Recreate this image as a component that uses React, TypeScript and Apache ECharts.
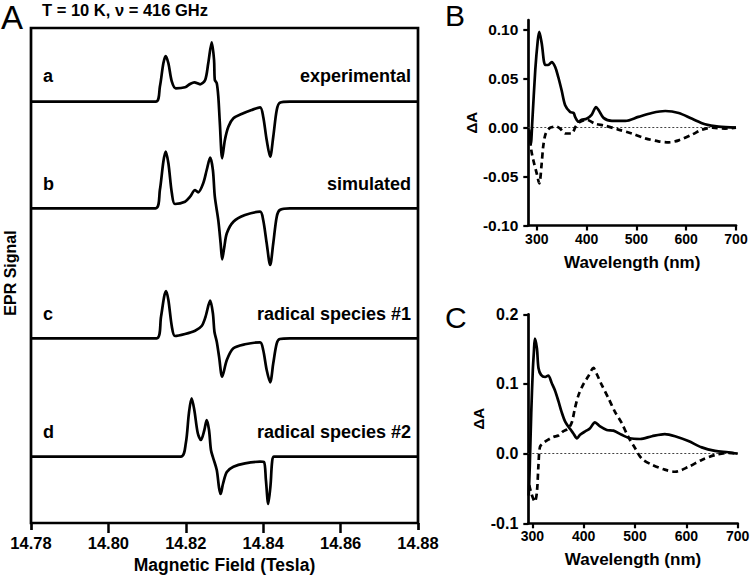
import React, { useEffect, useRef } from "react";
import * as echarts from "echarts";

// ---------- Panel A: EPR traces (field in Tesla, signal in a.u. relative to each baseline) ----------
const traceExperimental: number[][] = [
  [14.78, 0], [14.8122, 0], [14.8133, 15], [14.8142, 38.4], [14.8148, 45.7], [14.8155, 38.4],
  [14.8164, 20], [14.8174, 13.4], [14.8198, 14.4], [14.8211, 17.7], [14.8222, 19.4], [14.8237, 17.4],
  [14.825, 21.7], [14.8258, 38.4], [14.8267, 59.4], [14.8273, 41.7], [14.8275, 21.7], [14.828, 18.4],
  [14.8284, 5], [14.8288, -21.6], [14.8294, -56.6], [14.8301, -38.3], [14.831, -25], [14.8323, -16.6],
  [14.8344, -12.3], [14.837, -8.3], [14.8392, -5.6], [14.84, -15], [14.8409, -38.3], [14.8418, -55],
  [14.8426, -35], [14.8435, -8.3], [14.8443, -1], [14.8469, 0], [14.88, 0],
];
const traceSimulated: number[][] = [
  [14.78, 0], [14.8122, 0], [14.8133, 18.3], [14.8142, 46.6], [14.8148, 56.6], [14.8155, 45],
  [14.8164, 15], [14.8172, 4.3], [14.8198, 6.6], [14.8211, 11.6], [14.8224, 18.3], [14.8232, 16],
  [14.8245, 25], [14.8254, 38.3], [14.8263, 50.6], [14.827, 38.3], [14.8275, 11.6], [14.8284, -12],
  [14.829, -35], [14.8294, -51], [14.8299, -40], [14.8306, -25], [14.8323, -13.4], [14.8353, -6.7],
  [14.8392, -3.4], [14.84, -11.7], [14.8409, -35], [14.8418, -56.7], [14.8426, -35], [14.8435, -8.4],
  [14.8443, -1.7], [14.8469, 0], [14.88, 0],
];
const traceRadical1: number[][] = [
  [14.78, 0], [14.8125, 0], [14.8136, 21.6], [14.8144, 41.6], [14.8149, 47.3], [14.8155, 38.3],
  [14.8164, 11.6], [14.8172, 2.3], [14.8198, 4.3], [14.8224, 7.6], [14.8241, 12.3], [14.8251, 21.6],
  [14.8263, 37.6], [14.827, 25], [14.8274, 6.6], [14.828, -3.4], [14.8286, -18.4], [14.8294, -38.4],
  [14.8306, -21.7], [14.8323, -10], [14.8353, -6], [14.8392, -4], [14.84, -11.7], [14.8409, -31.7],
  [14.8418, -44], [14.8426, -25], [14.8435, -5], [14.8443, -0.7], [14.8469, 0], [14.88, 0],
];
const traceRadical2: number[][] = [
  [14.78, 0], [14.8187, 0], [14.82, 13.4], [14.8208, 43.4], [14.8215, 58.4], [14.8222, 46.7],
  [14.8231, 23.4], [14.8239, 16.7], [14.8248, 26.7], [14.8254, 36.7], [14.826, 26.7], [14.8265, 6.7],
  [14.8271, -1.6], [14.828, -13.3], [14.8286, -31.3], [14.829, -37.3], [14.8296, -27.3], [14.8306, -15.3],
  [14.8323, -10], [14.8353, -6.6], [14.8392, -5], [14.8402, -5.3], [14.8407, -23.3], [14.8413, -47.3],
  [14.8419, -28.3], [14.8423, -5.3], [14.8428, 0], [14.88, 0],
];
const epTraces = [traceExperimental, traceSimulated, traceRadical1, traceRadical2];
const traceOffsets = [421.3, 314.7, 184.7, 66.3];
const traceLetters = ["a", "b", "c", "d"];
const traceNames = ["experimental", "simulated", "radical species #1", "radical species #2"];
const fieldLabelTicks = [14.78, 14.8, 14.82, 14.84, 14.86, 14.88];
const fieldTopTicks = [14.8, 14.82, 14.84, 14.86];

// ---------- Panel B ----------
const bSolid: number[][] = [
  [285, -0.004], [288, -0.017], [291, 0.006], [297, 0.059], [302, 0.089], [305, 0.098], [310, 0.086],
  [317, 0.064], [323, 0.064], [330, 0.067], [337, 0.062], [343, 0.052], [350, 0.038], [357, 0.023],
  [367, 0.016], [374, 0.015], [377, 0.011], [384, 0.006], [390, 0.008], [400, 0.009], [410, 0.013],
  [419, 0.021], [424, 0.018], [434, 0.01], [451, 0.007], [478, 0.007], [504, 0.011], [531, 0.015],
  [558, 0.017], [585, 0.015], [612, 0.009], [638, 0.0035], [665, 0.001], [700, 0],
];
const bDashed: number[][] = [
  [285, -0.002], [289, -0.023], [293, -0.033], [300, -0.047], [305, -0.057], [310, -0.036],
  [313, -0.019], [318, -0.006], [327, 0], [340, 0.001], [347, -0.001], [357, -0.006], [370, -0.006],
  [378, 0.001], [387, 0.006], [400, 0.008], [417, 0.004], [437, 0.002], [464, -0.002], [491, -0.006],
  [518, -0.011], [544, -0.014], [565, -0.015], [585, -0.013], [612, -0.007], [632, -0.002], [652, 0],
  [678, -0.001], [700, 0],
];
const bTicks = [-0.1, -0.05, 0, 0.05, 0.1];

// ---------- Panel C ----------
const cSolid: number[][] = [
  [293, -0.06], [295, -0.02], [298, 0.06], [301, 0.12], [303, 0.145], [305, 0.165], [309, 0.151],
  [312, 0.123], [317, 0.113], [325, 0.11], [331, 0.112], [338, 0.101], [344, 0.091], [351, 0.075],
  [357, 0.06], [364, 0.046], [373, 0.036], [380, 0.029], [387, 0.022], [393, 0.027], [403, 0.032],
  [412, 0.036], [422, 0.045], [432, 0.039], [445, 0.034], [458, 0.033], [474, 0.027], [490, 0.022],
  [510, 0.021], [533, 0.025], [558, 0.028], [578, 0.025], [604, 0.018], [630, 0.009], [656, 0.004],
  [682, 0.002], [700, 0],
];
const cDashed: number[][] = [
  [294, -0.045], [299, -0.059], [305, -0.069], [309, -0.055], [312, -0.016], [315, 0.01], [321, 0.015],
  [331, 0.02], [341, 0.024], [351, 0.026], [360, 0.032], [370, 0.036], [377, 0.045], [383, 0.065],
  [390, 0.084], [399, 0.099], [409, 0.111], [419, 0.123], [425, 0.115], [435, 0.099], [448, 0.08],
  [461, 0.06], [474, 0.044], [487, 0.024], [500, 0.008], [513, -0.007], [533, -0.016], [558, -0.023],
  [578, -0.026], [604, -0.019], [630, -0.009], [656, -0.002], [682, 0.001], [700, 0],
];
const cTicks = [-0.1, 0, 0.1, 0.2];
const wavelengthTicks = [300, 400, 500, 600, 700];

const FONT = "'Liberation Sans', Arial, Helvetica, sans-serif";
const LW = 2.7;

function spectrumXAxis(gridIndex: number, min: number) {
  return {
    type: "value", gridIndex, min, max: 700,
    axisLine: { show: true, onZero: false, lineStyle: { color: "#000", width: 2.7 } },
    axisTick: { show: true, length: 5, customValues: wavelengthTicks, lineStyle: { color: "#000", width: 2.2 } },
    axisLabel: { customValues: wavelengthTicks, color: "#000", fontFamily: FONT, fontWeight: "bold", fontSize: 14, margin: 6, hideOverlap: false },
    splitLine: { show: false },
    name: "Wavelength (nm)", nameLocation: "middle", nameGap: 28,
    nameTextStyle: { color: "#000", fontFamily: FONT, fontWeight: "bold", fontSize: 17 },
  };
}

function spectrumYAxis(gridIndex: number, min: number, max: number, ticks: number[], digits: number, fs: number) {
  return {
    type: "value", gridIndex, min, max,
    axisLine: { show: true, onZero: false, lineStyle: { color: "#000", width: 2.7 } },
    axisTick: { show: true, length: 5, customValues: ticks, lineStyle: { color: "#000", width: 2.2 } },
    axisLabel: {
      customValues: ticks, color: "#000", fontFamily: FONT, fontWeight: "bold", fontSize: fs, margin: 10,
      formatter: (v: number) => (Math.abs(v) < 1e-9 ? 0 : v).toFixed(digits),
    },
    splitLine: { show: false },
    name: "ΔA", nameLocation: "middle", nameGap: 42, nameRotate: 90,
    nameTextStyle: { color: "#000", fontFamily: FONT, fontWeight: "bold", fontSize: 15 },
  };
}

function spectrumSeries(data: number[][], axisIndex: number, dashed: boolean, zeroLine: boolean) {
  const s: any = {
    type: "line", xAxisIndex: axisIndex, yAxisIndex: axisIndex, data,
    showSymbol: false, symbol: "none", smooth: 0.3,
    lineStyle: { color: "#000", width: LW, type: dashed ? [6, 4] : "solid" },
    z: 3,
  };
  if (zeroLine) {
    s.markLine = {
      silent: true, symbol: "none", label: { show: false },
      lineStyle: { color: "#444", width: 1, type: [2, 2] },
      data: [{ yAxis: 0 }], z: 1,
    };
  }
  return s;
}

export default function App() {
  const ref = useRef<HTMLDivElement>(null);
  useEffect(() => {
    document.body.style.margin = "0";
    if (!ref.current) return;
    const chart = echarts.init(ref.current, undefined, { renderer: "svg" });

    const textStyle = (fs: number, bold = true) => ({ fill: "#000", fontFamily: FONT, fontSize: fs, fontWeight: bold ? "bold" : "normal" });
    const letterY = [76, 184, 314, 432];
    const graphics: any[] = [
      { type: "text", x: 1, y: 17.5, style: { ...textStyle(33, false), text: "A", textAlign: "left", textVerticalAlign: "middle" } },
      { type: "text", x: 445, y: 15.5, style: { ...textStyle(30, false), text: "B", textAlign: "left", textVerticalAlign: "middle" } },
      { type: "text", x: 445, y: 317, style: { ...textStyle(30, false), text: "C", textAlign: "left", textVerticalAlign: "middle" } },
      { type: "text", x: 42, y: 10, style: { ...textStyle(16.5), text: "T = 10 K, ν = 416 GHz", textAlign: "left", textVerticalAlign: "middle" } },
      { type: "text", x: 10, y: 273, rotation: Math.PI / 2, style: { ...textStyle(16), text: "EPR Signal", textAlign: "center", textVerticalAlign: "middle" } },
    ];
    traceLetters.forEach((l, i) => {
      graphics.push({ type: "text", x: 43, y: letterY[i], style: { ...textStyle(18), text: l, textAlign: "left", textVerticalAlign: "middle" } });
      graphics.push({ type: "text", x: 411, y: letterY[i], style: { ...textStyle(18), text: traceNames[i], textAlign: "right", textVerticalAlign: "middle" } });
    });

    const option: any = {
      animation: false,
      backgroundColor: "#fff",
      textStyle: { fontFamily: FONT },
      grid: [
        { left: 31, top: 28, width: 387, height: 495, show: true, borderColor: "#000", borderWidth: 2.7, backgroundColor: "transparent", containLabel: false, outerBoundsMode: "none" },
        { left: 528.3, top: 20, width: 207.7, height: 205.5, containLabel: false, outerBoundsMode: "none" },
        { left: 528.3, top: 314.3, width: 209.4, height: 209, containLabel: false, outerBoundsMode: "none" },
      ],
      xAxis: [
        {
          type: "value", gridIndex: 0, min: 14.78, max: 14.88, position: "bottom",
          axisLine: { show: false },
          axisTick: { show: true, length: 7, customValues: [14.78, 14.88], lineStyle: { color: "#000", width: 2.7 } },
          axisLabel: {
            customValues: fieldLabelTicks, color: "#000", fontFamily: FONT, fontWeight: "bold", fontSize: 16.5, margin: 11, hideOverlap: false,
            formatter: (v: number) => v.toFixed(2),
          },
          splitLine: { show: false },
          name: "Magnetic Field (Tesla)", nameLocation: "middle", nameGap: 31,
          nameTextStyle: { color: "#000", fontFamily: FONT, fontWeight: "bold", fontSize: 17.5 },
        },
        {
          type: "value", gridIndex: 0, min: 14.78, max: 14.88, position: "top",
          axisLine: { show: false },
          axisTick: { show: true, inside: true, length: 10, customValues: fieldTopTicks, lineStyle: { color: "#000", width: 2.5 } },
          axisLabel: { show: false },
          splitLine: { show: false },
        },
        spectrumXAxis(1, 283),
        spectrumXAxis(2, 292.2),
      ],
      yAxis: [
        { type: "value", gridIndex: 0, min: 0, max: 495, show: false },
        { type: "value", gridIndex: 0, min: 0, max: 495, show: false },
        spectrumYAxis(1, -0.1, 0.11, bTicks, 2, 15.5),
        spectrumYAxis(2, -0.1, 0.2, cTicks, 1, 16),
      ],
      graphic: graphics,
      series: [
        ...epTraces.map((tr, i) => ({
          type: "line", xAxisIndex: 0, yAxisIndex: 0,
          data: tr.map(([f, s]) => [f, s + traceOffsets[i]]),
          showSymbol: false, symbol: "none", smooth: 0.3,
          lineStyle: { color: "#000", width: LW, join: "round" },
        })),
        spectrumSeries(bSolid, 2, false, true),
        spectrumSeries(bDashed, 2, true, false),
        spectrumSeries(cSolid, 3, false, true),
        spectrumSeries(cDashed, 3, true, false),
      ],
    };
    chart.setOption(option);
    return () => chart.dispose();
  }, []);
  return <div ref={ref} style={{ width: 752, height: 575 }} />;
}
